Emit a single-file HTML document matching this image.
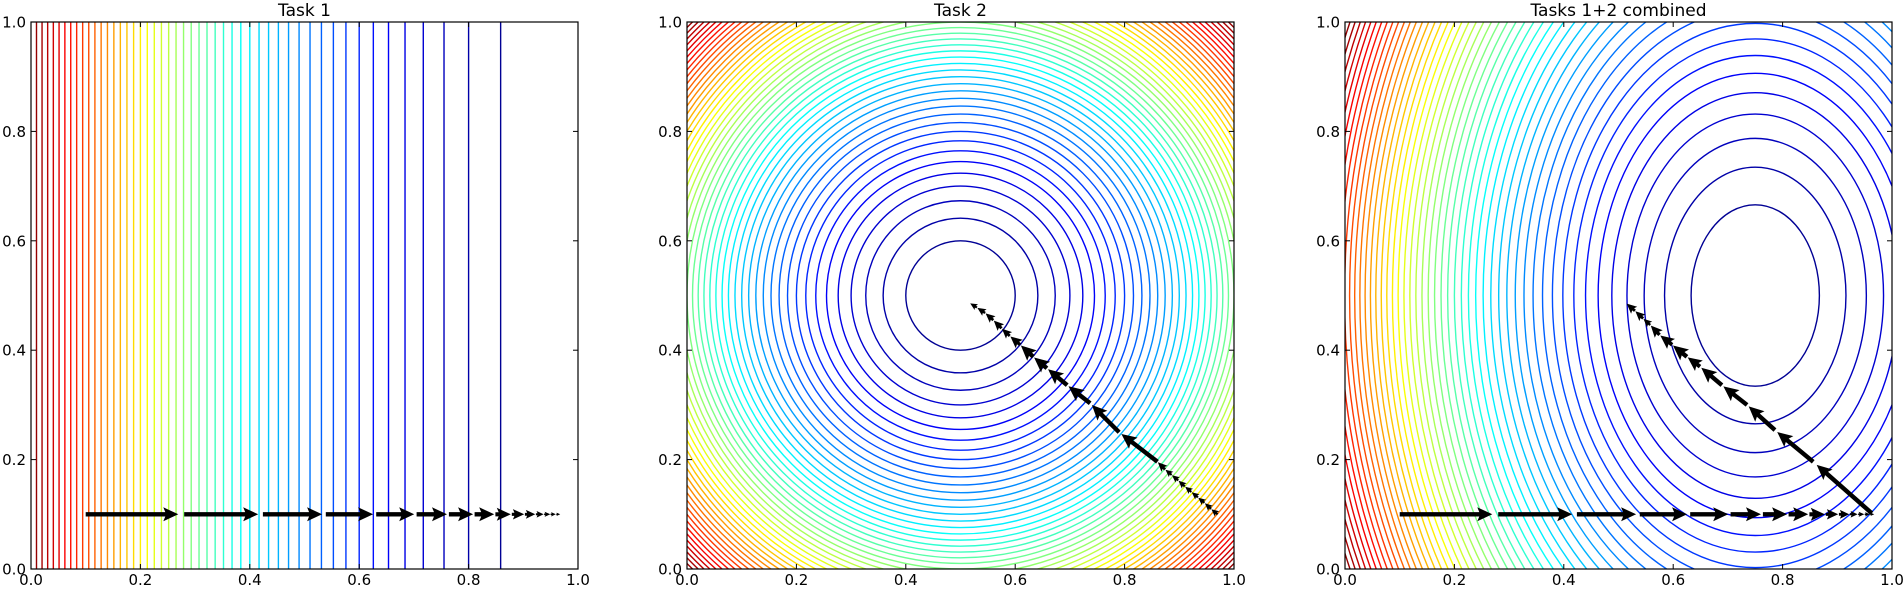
<!DOCTYPE html>
<html><head><meta charset="utf-8"><style>
html,body{margin:0;padding:0;background:#fff;overflow:hidden;width:1904px;height:589px;}
svg{display:block;}
svg text{font-family:"DejaVu Sans","Liberation Sans",sans-serif;fill:#000;}
</style></head><body>
<svg id="fig" width="1904" height="589" viewBox="0 0 1904 589" xmlns="http://www.w3.org/2000/svg"></svg>
<script>
// ---- data ----
const panelTitles = ["Task 1", "Task 2", "Tasks 1+2 combined"];
const tickValues = [0.0, 0.2, 0.4, 0.6, 0.8, 1.0];
const tickLabels = ["0.0", "0.2", "0.4", "0.6", "0.8", "1.0"];
const levelCount = 50;
// task 1 gradient steps (x along y=0.1)
const task1StepX = [0.1, 0.28, 0.424, 0.539, 0.631, 0.705, 0.764, 0.811, 0.849, 0.879, 0.903, 0.923, 0.938, 0.950, 0.960, 0.968];
const task1StepY = [0.1, 0.1, 0.1, 0.1, 0.1, 0.1, 0.1, 0.1, 0.1, 0.1, 0.1, 0.1, 0.1, 0.1, 0.1, 0.1];
// task 2 steps
const task2StepX = [0.97, 0.958, 0.946, 0.934, 0.922, 0.91, 0.898, 0.886, 0.874, 0.86, 0.79, 0.737, 0.695, 0.658, 0.633, 0.609, 0.59, 0.575, 0.56, 0.545, 0.53, 0.517];
const task2StepY = [0.1, 0.11, 0.121, 0.131, 0.141, 0.151, 0.162, 0.172, 0.182, 0.196, 0.25, 0.303, 0.336, 0.367, 0.388, 0.41, 0.426, 0.44, 0.455, 0.468, 0.478, 0.486];
// task 3 diagonal steps
const task3DiagX = [0.963, 0.856, 0.786, 0.735, 0.689, 0.649, 0.625, 0.598, 0.575, 0.558, 0.545, 0.53, 0.514];
const task3DiagY = [0.102, 0.196, 0.254, 0.3, 0.336, 0.37, 0.388, 0.41, 0.428, 0.446, 0.458, 0.472, 0.486];

// ---- layout ----
const panelLeft = [31, 687, 1345];
const TOP = 22, SIZE = 547;
const NS = "http://www.w3.org/2000/svg";
const svg = document.getElementById('fig');
function mk(tag, attrs, parent) {
  const e = document.createElementNS(NS, tag);
  for (const k in attrs) e.setAttribute(k, attrs[k]);
  (parent || svg).appendChild(e);
  return e;
}
function jet(v) {
  v = Math.max(0, Math.min(1, v));
  const r = Math.max(0, Math.min(1, 1.5 - Math.abs(4 * v - 3)));
  const g = Math.max(0, Math.min(1, 1.5 - Math.abs(4 * v - 2)));
  const b = Math.max(0, Math.min(1, 1.5 - Math.abs(4 * v - 1)));
  return `rgb(${Math.round(r*255)},${Math.round(g*255)},${Math.round(b*255)})`;
}
function sx(p, v) { return panelLeft[p] + v * SIZE; }
function sy(v) { return TOP + SIZE - v * SIZE; }

function arrow(g, x0, y0, x1, y1, name) {
  let dx = x1 - x0, dy = y1 - y0;
  let L = Math.hypot(dx, dy);
  if (L < 0.5) return;
  const ux = dx / L, uy = dy / L, nx = -uy, ny = ux;
  let w = 2.2, hl = 15, hw = 7, hal = 13;
  const minL = hl * 1.1;
  if (L < minL) { const s = L / minL; w *= s; hl *= s; hw *= s; hal *= s; }
  const bx = x1 - ux * hl, by = y1 - uy * hl;
  const ax = x1 - ux * hal, ay = y1 - uy * hal;
  const pts = [
    [x0 + nx * w, y0 + ny * w],
    [ax + nx * w, ay + ny * w],
    [bx + nx * hw, by + ny * hw],
    [x1, y1],
    [bx - nx * hw, by - ny * hw],
    [ax - nx * w, ay - ny * w],
    [x0 - nx * w, y0 - ny * w]
  ].map(p => p[0].toFixed(1) + ',' + p[1].toFixed(1)).join(' ');
  const a = mk('polygon', {points: pts, fill: '#000'}, g);
  
  
}
function arrowSeries(p, xs, ys, name) {
  const g = mk('g', {});
  
  
  for (let i = 0; i < xs.length - 1; i++) {
    const x0 = sx(p, xs[i]), y0 = sy(ys[i]);
    const x1 = sx(p, xs[i] + (xs[i+1] - xs[i]) * 0.94), y1 = sy(ys[i] + (ys[i+1] - ys[i]) * 0.94);
    arrow(g, x0, y0, x1, y1, 'step-arrow');
  }
}

for (let p = 0; p < 3; p++) {
  const L = panelLeft[p];
  const defs = mk('defs', {});
  const cp = mk('clipPath', {id: 'clip' + p}, defs);
  mk('rect', {x: L, y: TOP, width: SIZE, height: SIZE}, cp);
  const cg = mk('g', {'clip-path': `url(#clip${p})`, fill: 'none', 'stroke-width': 1.4});
  
  
  for (let k = 1; k < levelCount; k++) {
    const t = k / levelCount;
    const col = jet(t);
    let el;
    if (p === 0) {
      const x = 1 - Math.sqrt(t);
      el = mk('line', {x1: sx(p, x), x2: sx(p, x), y1: TOP, y2: TOP + SIZE, stroke: col}, cg);
    } else if (p === 1) {
      const r = Math.sqrt(t * 0.5);
      el = mk('circle', {cx: sx(p, 0.5), cy: sy(0.5), r: r * SIZE, stroke: col}, cg);
    } else {
      const d = t * 1.375;
      el = mk('ellipse', {cx: sx(p, 0.75), cy: sy(0.5), rx: Math.sqrt(d / 2) * SIZE, ry: Math.sqrt(d) * SIZE, stroke: col}, cg);
    }
    
    
  }
  if (p === 0) arrowSeries(0, task1StepX, task1StepY, 'task1-descent-arrows');
  if (p === 1) arrowSeries(1, task2StepX, task2StepY, 'task2-descent-arrows');
  if (p === 2) {
    arrowSeries(2, task1StepX, task1StepY, 'task1-descent-arrows');
    arrowSeries(2, task3DiagX, task3DiagY, 'task2-descent-arrows');
  }
  const fr = mk('rect', {x: L, y: TOP, width: SIZE, height: SIZE, fill: 'none', stroke: '#000', 'stroke-width': 1.2});
  
  
  const tg = mk('g', {stroke: '#000', 'stroke-width': 1});
  
  
  tickValues.forEach((v, i) => {
    const X = sx(p, v), Y = sy(v);
    mk('line', {x1: X, x2: X, y1: TOP + SIZE, y2: TOP + SIZE - 5}, tg);
    mk('line', {x1: X, x2: X, y1: TOP, y2: TOP + 5}, tg);
    mk('line', {x1: L, x2: L + 5, y1: Y, y2: Y}, tg);
    mk('line', {x1: L + SIZE, x2: L + SIZE - 5, y1: Y, y2: Y}, tg);
    const xl = mk('text', {x: X, y: 585, 'font-size': 15, 'text-anchor': 'middle'});
    xl.textContent = tickLabels[i];
    
    
    const yl = mk('text', {x: L - 5, y: Y + 5.5, 'font-size': 15, 'text-anchor': 'end'});
    yl.textContent = tickLabels[i];
    
    
  });
  const tt = mk('text', {x: L + SIZE / 2, y: 16, 'font-size': 17, 'text-anchor': 'middle'});
  tt.textContent = panelTitles[p];
  
  
}
</script>
</body></html>
